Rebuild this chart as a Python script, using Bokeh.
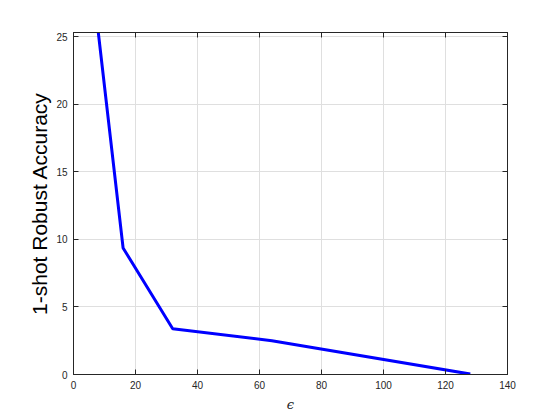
from bokeh.plotting import figure
from bokeh.models import LinearAxis, Range1d, CustomJSTickFormatter, FixedTicker
from bokeh.embed import file_html
from bokeh.resources import INLINE

# data
epsilon = [8, 16, 32, 64, 128]
accuracy = [25.3, 9.36, 3.39, 2.5, 0.03]
x_ticks = [0, 20, 40, 60, 80, 100, 120, 140]
y_ticks = [0, 5, 10, 15, 20, 25]

AX = "#262626"
FONT = "Liberation Sans"

p = figure(frame_width=434, frame_height=342, output_backend="svg", toolbar_location=None,
           x_range=Range1d(0, 140), y_range=Range1d(0, 25.3),
           min_border_left=73, min_border_top=32, min_border_right=37, min_border_bottom=36,
           background_fill_color="white", border_fill_color="white")
p.outline_line_color = AX
p.outline_line_width = 1

p.line(epsilon, accuracy, line_color="#0000ff", line_width=3)

def style(ax, labels=True):
    ax.axis_line_color = AX
    ax.major_tick_line_color = AX
    ax.major_tick_in = 5
    ax.major_tick_out = 0
    ax.minor_tick_line_color = None
    ax.major_label_text_color = AX
    ax.major_label_text_font = FONT
    ax.major_label_text_font_size = "10px"
    if not labels:
        ax.formatter = CustomJSTickFormatter(code="return ''")
        ax.major_label_standoff = 0

p.xaxis.ticker = FixedTicker(ticks=x_ticks)
p.yaxis.ticker = FixedTicker(ticks=y_ticks)
style(p.xaxis[0])
style(p.yaxis[0])
p.xaxis.major_label_standoff = 6
p.yaxis.major_label_standoff = 6
p.xgrid.ticker = FixedTicker(ticks=x_ticks)
p.ygrid.ticker = FixedTicker(ticks=y_ticks)
p.grid.grid_line_color = "#dfdfdf"
p.grid.grid_line_width = 1

p.yaxis.axis_label = "1-shot Robust Accuracy"
p.yaxis.axis_label_text_font = FONT
p.yaxis.axis_label_text_font_size = "21px"
p.yaxis.axis_label_text_font_style = "normal"
p.yaxis.axis_label_text_color = "black"
p.yaxis.axis_label_standoff = 2

p.xaxis.axis_label = "ϵ"
p.xaxis.axis_label_text_font = "DejaVu Serif"
p.xaxis.axis_label_text_font_size = "13px"
p.xaxis.axis_label_text_font_style = "italic"
p.xaxis.axis_label_text_color = AX
p.xaxis.axis_label_standoff = 5

top = LinearAxis(ticker=FixedTicker(ticks=x_ticks))
right = LinearAxis(ticker=FixedTicker(ticks=y_ticks))
style(top, False)
style(right, False)
p.add_layout(top, "above")
p.add_layout(right, "right")

open("out.html", "w").write(file_html(p, INLINE))
